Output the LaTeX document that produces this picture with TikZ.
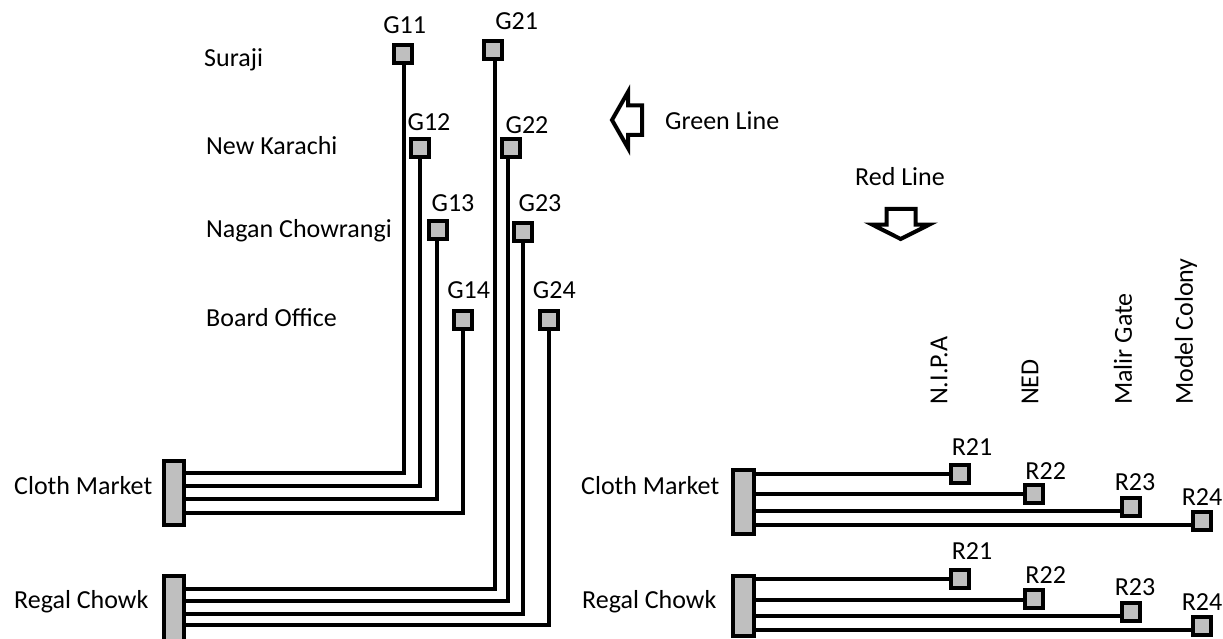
\documentclass[tikz,border=0pt]{standalone}
\usepackage{fontspec}
\setmainfont{Carlito}
\definecolor{padgray}{HTML}{BFBFBF}
\tikzset{
  pad/.style={draw=black,fill=padgray,line width=4pt,minimum size=18pt,inner sep=0pt,outer sep=0pt},
  barbox/.style={draw=black,fill=padgray,line width=4pt,minimum width=20.5pt,inner sep=0pt,outer sep=0pt},
  wire/.style={draw=black,line width=4pt},
  lbl/.style={font=\fontsize{26}{29}\selectfont,inner sep=0pt,text=black},
  lblw/.style={lbl,anchor=west},
  lblv/.style={lbl,anchor=west,rotate=90},
  bigarrow/.style={draw=black,line width=4pt,miter limit=10}
}
\begin{document}
\begin{tikzpicture}[x=1pt,y=-1pt]
\useasboundingbox (0,0) rectangle (1223,639);
\clip (0,0) rectangle (1223,639);
% pads
\node[pad] (G11) at (403,54) {};
\node[pad] (G21) at (493,50) {};
\node[pad] (G12) at (419.7,148) {};
\node[pad] (G22) at (510.7,148) {};
\node[pad] (G13) at (438,230) {};
\node[pad] (G23) at (523.3,232) {};
\node[pad] (G14) at (463.3,320) {};
\node[pad] (G24) at (549,320) {};
\node[barbox,minimum height=64pt] (LC) at (174,493) {};
\node[barbox,minimum height=72pt] (LR) at (174,612) {};
\node[barbox,minimum height=64.5pt] (RC) at (743.3,502) {};
\node[barbox,minimum height=60.5pt] (RR) at (743.3,606) {};
\node[pad] (R21a) at (960.3,474) {};
\node[pad] (R22a) at (1034.3,494.3) {};
\node[pad] (R23a) at (1130.7,507) {};
\node[pad] (R24a) at (1202,520.7) {};
\node[pad] (R21b) at (960.3,579) {};
\node[pad] (R22b) at (1034.3,599.3) {};
\node[pad] (R23b) at (1130.7,612) {};
\node[pad] (R24b) at (1202,626) {};
% connectors, left
\draw[wire] (LC.east |- 0,473.3) -| ([xshift=1pt]G11.south);
\draw[wire] (LC.east |- 0,485.7) -| (G12.south);
\draw[wire] (LC.east |- 0,499) -| ([xshift=-1pt]G13.south);
\draw[wire] (LC.east |- 0,512.7) -| (G14.south);
\draw[wire] (LR.east |- 0,589) -| ([xshift=2pt]G21.south);
\draw[wire] (LR.east |- 0,601.3) -| ([xshift=-2.4pt]G22.south);
\draw[wire] (LR.east |- 0,614) -| (G23.south);
\draw[wire] (LR.east |- 0,625.3) -| (G24.south);
% connectors, right
\draw[wire] (RC.east |- 0,474.3) -- (R21a.west |- 0,474.3);
\draw[wire] (RC.east |- 0,494.3) -- (R22a.west |- 0,494.3);
\draw[wire] (RC.east |- 0,511.3) -- (R23a.west |- 0,511.3);
\draw[wire] (RC.east |- 0,525) -- (R24a.west |- 0,525);
\draw[wire] (RR.east |- 0,579.3) -- (R21b.west |- 0,579.3);
\draw[wire] (RR.east |- 0,600) -- (R22b.west |- 0,600);
\draw[wire] (RR.east |- 0,616) -- (R23b.west |- 0,616);
\draw[wire] (RR.east |- 0,630.3) -- (R24b.west |- 0,630.3);
% block arrows
\draw[bigarrow] (612,120) -- (628,92) -- (628,105.5) -- (642,105.5) -- (642,135) -- (628,135) -- (628,148) -- cycle;
\draw[bigarrow] (900.7,239) -- (872,224.5) -- (886.5,224.5) -- (886.5,209) -- (915.5,209) -- (915.5,224.5) -- (929.5,224.5) -- cycle;
% pad labels
\node[lbl] (tG11) at (404.7,25) {G11};
\node[lbl] (tG21) at (516.7,21) {G21};
\node[lbl] (tG12) at (429,122) {G12};
\node[lbl] (tG22) at (527,125) {G22};
\node[lbl] (tG13) at (453,203) {G13};
\node[lbl] (tG23) at (540,203) {G23};
\node[lbl] (tG14) at (468.7,290) {G14};
\node[lbl] (tG24) at (554.3,290) {G24};
\node[lbl] (tR21a) at (972,447) {R21};
\node[lbl] (tR22a) at (1045.7,471) {R22};
\node[lbl] (tR23a) at (1135,482) {R23};
\node[lbl] (tR24a) at (1202,497) {R24};
\node[lbl] (tR21b) at (972,551) {R21};
\node[lbl] (tR22b) at (1045.7,575) {R22};
\node[lbl] (tR23b) at (1135,587) {R23};
\node[lbl] (tR24b) at (1202,602) {R24};
% names
\node[lblw] (s1) at (204,60) {Suraji};
\node[lblw] (s2) at (206,146) {New Karachi};
\node[lblw] (s3) at (206,231) {Nagan Chowrangi};
\node[lblw] (s4) at (206,318) {Board Office};
\node[lblw] (s5) at (14,486) {Cloth Market};
\node[lblw] (s6) at (14,602) {Regal Chowk};
\node[lblw] (s7) at (581,486) {Cloth Market};
\node[lblw] (s8) at (582,602) {Regal Chowk};
\node[lblw] (gl) at (665,121) {Green Line};
\node[lbl] (rl) at (900,177) {Red Line};
\node[lblv] (v1) at (939,405) {N.I.P.A};
\node[lblv] (v2) at (1030,405) {NED};
\node[lblv] (v3) at (1123,405) {Malir Gate};
\node[lblv] (v4) at (1186,405) {Model Colony};
\end{tikzpicture}
\end{document}
